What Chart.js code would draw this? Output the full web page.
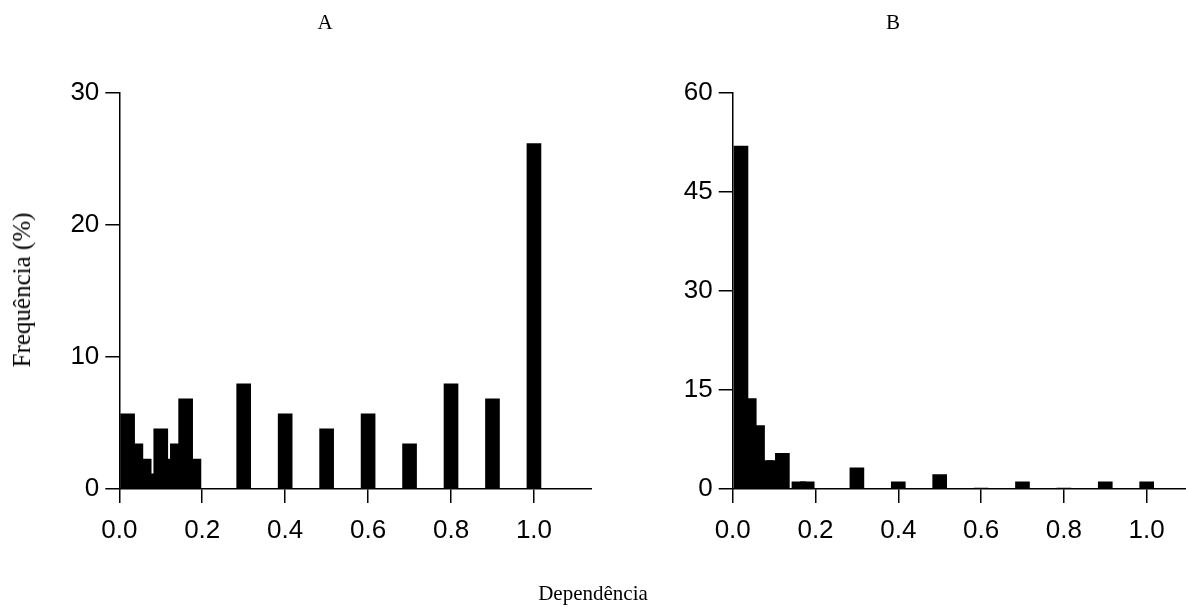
<!DOCTYPE html>
<html lang="pt">
<head>
    <meta charset="UTF-8">
    <title>Dependência - frequência</title>
    <script src="https://cdn.jsdelivr.net/npm/chart.js"></script>
    <style>
        body {
            margin: 0;
            width: 1186px;
            height: 609px;
            overflow: hidden;
            position: relative;
            background: #fff;
        }
        canvas {
            position: absolute;
            top: 0;
        }
        .label {
            position: absolute;
            font-family: 'Liberation Serif', 'Times New Roman', serif;
            color: #000;
            white-space: nowrap;
            transform: translate(-50%, -50%);
        }
        .ylabel {
            transform: translate(-50%, -50%) rotate(-90deg);
        }
    </style>
</head>
<body>
    <canvas id="chartA" width="592" height="609" style="left:0"></canvas>
    <canvas id="chartB" width="566" height="609" style="left:620px"></canvas>

    <div class="label" style="left:325px; top:22px; font-size:21px">A</div>
    <div class="label" style="left:893px; top:22px; font-size:21px">B</div>
    <div class="label ylabel" style="left:22px; top:290px; font-size:25px">Frequência (%)</div>
    <div class="label" style="left:593px; top:593px; font-size:21px">Dependência</div>

    <script>
        // Painel A: dependência (centro da classe) e frequência (%)
        const depA = [0.02, 0.04, 0.06, 0.08, 0.10, 0.12, 0.14, 0.16, 0.18, 0.3, 0.4, 0.5, 0.6, 0.7, 0.8, 0.9, 1.0];
        const freqA = [5.68, 3.41, 2.27, 1.14, 4.55, 2.27, 3.41, 6.82, 2.27, 7.95, 5.68, 4.55, 5.68, 3.41, 7.95, 6.82, 26.14];
        const yTicksA = [0, 10, 20, 30];

        // Painel B
        const depB = [0.02, 0.04, 0.06, 0.08, 0.10, 0.12, 0.16, 0.18, 0.3, 0.4, 0.5, 0.6, 0.7, 0.8, 0.9, 1.0];
        const freqB = [51.9, 13.7, 9.6, 4.3, 4.3, 5.4, 1.1, 1.1, 3.2, 1.1, 2.2, 0.15, 1.1, 0.15, 1.1, 1.1];
        const yTicksB = [0, 15, 30, 45, 60];

        const xTicks = [0, 0.2, 0.4, 0.6, 0.8, 1.0];

        const tickFont = { family: "'Liberation Sans', Arial, sans-serif", size: 26 };

        function makeChart(id, xs, ys, yTicks, xMax, yAxisWidth) {
            const ctx = document.getElementById(id).getContext('2d');
            return new Chart(ctx, {
                type: 'bar',
                data: {
                    datasets: [{
                        data: xs.map((x, i) => ({ x: x, y: ys[i] })),
                        backgroundColor: '#000',
                        borderWidth: 0,
                        barThickness: 14
                    }]
                },
                options: {
                    responsive: false,
                    animation: false,
                    layout: { padding: { top: 92.5, right: 0, bottom: 0, left: 0 } },
                    plugins: {
                        legend: { display: false },
                        tooltip: { enabled: false }
                    },
                    scales: {
                        x: {
                            type: 'linear',
                            offset: false,
                            min: 0,
                            max: xMax,
                            afterFit: s => { s.height = 120; },
                            afterBuildTicks: s => { s.ticks = xTicks.map(v => ({ value: v })); },
                            ticks: {
                                font: tickFont,
                                color: '#000',
                                padding: 12,
                                maxRotation: 0,
                                callback: v => v.toFixed(1)
                            },
                            grid: { offset: false, drawOnChartArea: false, drawTicks: true, tickLength: 14, color: '#000', lineWidth: 1.5 },
                            border: { display: true, color: '#000', width: 1.5 }
                        },
                        y: {
                            min: yTicks[0],
                            max: yTicks[yTicks.length - 1],
                            afterFit: s => { s.width = yAxisWidth; },
                            afterBuildTicks: s => { s.ticks = yTicks.map(v => ({ value: v })); },
                            ticks: {
                                font: tickFont,
                                color: '#000',
                                padding: 6
                            },
                            grid: { drawOnChartArea: false, drawTicks: true, tickLength: 14, color: '#000', lineWidth: 1.5 },
                            border: { display: true, color: '#000', width: 1.5 }
                        }
                    }
                }
            });
        }

        makeChart('chartA', depA, freqA, yTicksA, 1.14, 119.3);
        makeChart('chartB', depB, freqB, yTicksB, 1.095, 112.7);
    </script>
</body>
</html>
